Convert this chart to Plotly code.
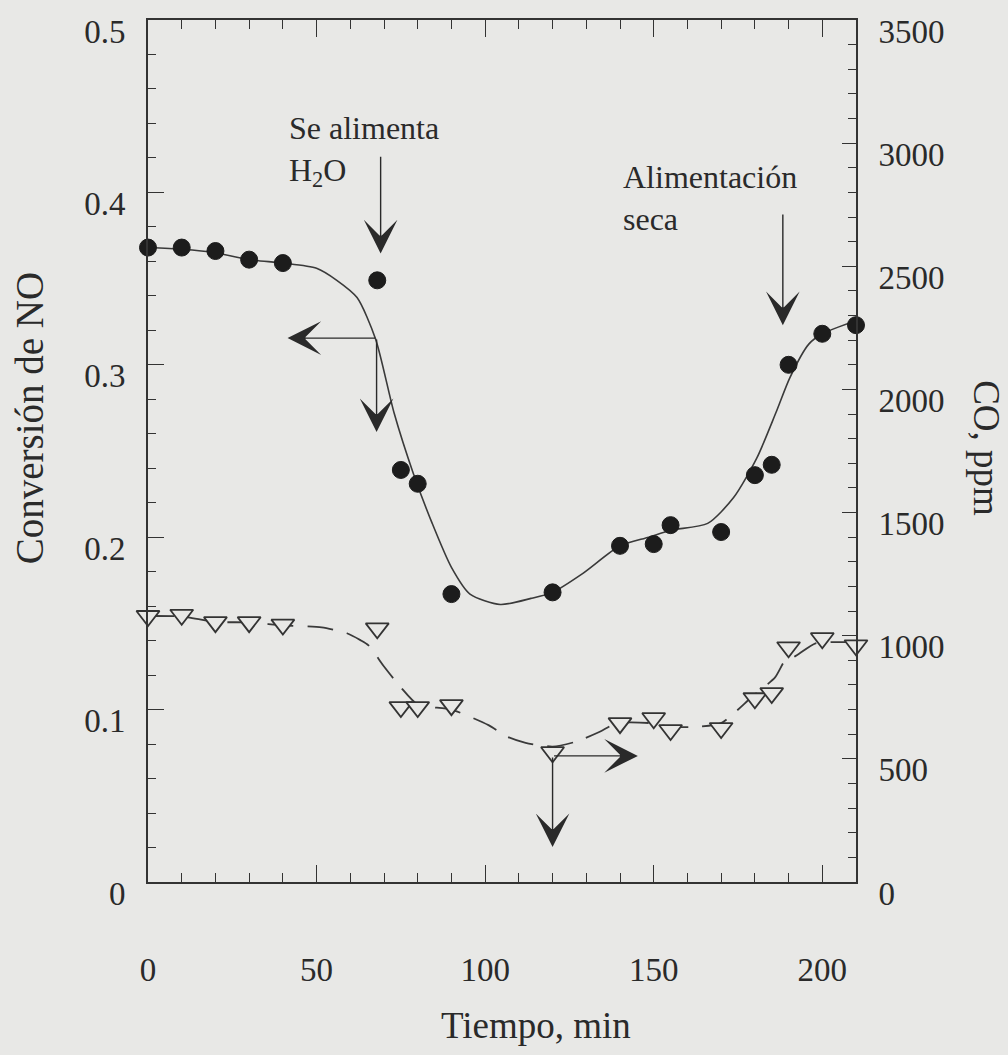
import plotly.graph_objects as go

# --- measured data -------------------------------------------------------
# NO conversion (left axis) vs time
t_no = [0, 10, 20, 30, 40, 68, 75, 80, 90, 120, 140, 150, 155, 170, 180, 185, 190, 200, 210]
conv_no = [0.368, 0.368, 0.366, 0.361, 0.359, 0.349, 0.239, 0.231, 0.167, 0.168,
           0.195, 0.196, 0.207, 0.203, 0.236, 0.242, 0.300, 0.318, 0.323]

# CO concentration (right axis) vs time
t_co = [0, 10, 20, 30, 40, 68, 75, 80, 90, 120, 140, 150, 155, 170, 180, 185, 190, 200, 210]
co_ppm = [1080, 1085, 1055, 1055, 1045, 1030, 710, 710, 718, 527, 645, 665, 617, 625,
          746, 767, 953, 990, 961]

# hand-drawn trend curve through the NO conversion points
t_no_fit = [0, 10, 20, 30, 40, 50, 56, 62, 67.5, 73, 78.7, 84.3, 90, 95.5, 104.5,
            113.6, 120, 129, 140, 148.5, 155, 166, 173.7, 180.6, 186.2, 190.4, 196, 200, 210]
conv_no_fit = [0.368, 0.367, 0.365, 0.361, 0.359, 0.356, 0.349, 0.339, 0.315, 0.272,
               0.237, 0.208, 0.1825, 0.167, 0.161, 0.1645, 0.168, 0.179, 0.195, 0.200,
               0.204, 0.208, 0.223, 0.246, 0.272, 0.2926, 0.312, 0.318, 0.3256]

# dashed trend curve through the CO points
t_co_fit = [0, 10, 20, 30, 40, 51.5, 59, 63, 65.4, 70, 75, 80, 90, 101, 106.5, 112, 120,
            127, 134, 139, 149, 155, 163, 170, 179, 186, 189, 191.5, 198, 204, 210]
co_ppm_fit = [1080, 1078, 1056, 1054, 1042, 1034, 1010, 982, 961, 875, 790, 720, 700, 637,
              590, 565, 550, 570, 610, 645, 645, 630, 630, 645, 750, 831, 900, 913, 969,
              974, 974]

x_ticks = [0, 50, 100, 150, 200]
y_left_ticks = [0, 0.1, 0.2, 0.3, 0.4, 0.5]
y_left_labels = ["0", "0.1", "0.2", "0.3", "0.4", "0.5"]
y_right_ticks = [0, 500, 1000, 1500, 2000, 2500, 3000, 3500]

# annotation arrows: (tail, head) pairs
h2o_arrow = dict(t=69, y_from=0.4215, y_to=0.3646)
dry_arrow = dict(t=188.3, y_from=0.388, y_to=0.323)
no_axis_arrow = dict(t=67.8, y=0.3155, t_left=41.4, y_down=0.261)
co_axis_arrow = dict(t=120, ppm=512, t_right=145.3, ppm_down=142)

INK = "#2a2a2a"
PAPER = "#e8e8e6"
FONT = "Liberation Serif"

fig = go.Figure()

fig.add_trace(go.Scatter(
    x=t_no_fit, y=conv_no_fit, mode="lines",
    line=dict(color="#3a3a3a", width=1.6, shape="spline", smoothing=0.7),
    hoverinfo="skip", showlegend=False))

fig.add_trace(go.Scatter(
    x=t_co_fit, y=co_ppm_fit, mode="lines", yaxis="y2",
    line=dict(color="#3a3a3a", width=1.8, dash="26px,14px", shape="spline", smoothing=0.6),
    hoverinfo="skip", showlegend=False))

fig.add_trace(go.Scatter(
    x=t_no, y=conv_no, mode="markers", name="Conversión de NO",
    marker=dict(symbol="circle", size=17, color="#1c1c1c",
                line=dict(color="#1c1c1c", width=1)),
    cliponaxis=False, showlegend=False))

fig.add_trace(go.Scatter(
    x=t_co, y=co_ppm, mode="markers", yaxis="y2", name="CO, ppm",
    marker=dict(symbol="triangle-down", size=20, color=PAPER,
                line=dict(color="#333333", width=1.8)),
    cliponaxis=False, showlegend=False))

annotations = []

# event labels
annotations.append(dict(
    x=41.1, y=0.449, xref="x", yref="y", xanchor="left", yanchor="top",
    text="Se alimenta<br>H<sub>2</sub>O", align="left", showarrow=False,
    font=dict(family=FONT, size=32, color=INK)))
annotations.append(dict(
    x=140.2, y=0.4205, xref="x", yref="y", xanchor="left", yanchor="top",
    text="Alimentación<br>seca", align="left", showarrow=False,
    font=dict(family=FONT, size=32, color=INK)))


def arrow(x, y, ax, ay, yref="y"):
    return dict(x=x, y=y, ax=ax, ay=ay, xref="x", yref=yref, axref="x", ayref=yref,
                text="", showarrow=True, arrowhead=3, arrowsize=4, arrowwidth=1.4,
                arrowcolor=INK, standoff=0)


annotations.append(arrow(h2o_arrow["t"], h2o_arrow["y_to"], h2o_arrow["t"], h2o_arrow["y_from"]))
annotations.append(arrow(dry_arrow["t"], dry_arrow["y_to"], dry_arrow["t"], dry_arrow["y_from"]))
annotations.append(arrow(no_axis_arrow["t_left"], no_axis_arrow["y"],
                         no_axis_arrow["t"], no_axis_arrow["y"]))
annotations.append(arrow(no_axis_arrow["t"], no_axis_arrow["y_down"],
                         no_axis_arrow["t"], no_axis_arrow["y"]))
annotations.append(arrow(co_axis_arrow["t_right"], co_axis_arrow["ppm"],
                         co_axis_arrow["t"], co_axis_arrow["ppm"], yref="y2"))
annotations.append(arrow(co_axis_arrow["t"], co_axis_arrow["ppm_down"],
                         co_axis_arrow["t"], co_axis_arrow["ppm"], yref="y2"))

# axis titles
annotations.append(dict(
    x=0.548, y=-0.166, xref="paper", yref="paper", xanchor="center", yanchor="middle",
    text="Tiempo, min", showarrow=False, font=dict(family=FONT, size=37, color=INK)))
annotations.append(dict(
    x=-0.168, y=0.538, xref="paper", yref="paper", xanchor="center", yanchor="middle",
    text="Conversión de NO", textangle=-90, showarrow=False,
    font=dict(family=FONT, size=39, color=INK)))
annotations.append(dict(
    x=1.184, y=0.503, xref="paper", yref="paper", xanchor="center", yanchor="middle",
    text="CO, ppm", textangle=90, showarrow=False,
    font=dict(family=FONT, size=37, color=INK)))

axis_common = dict(
    showgrid=False, zeroline=False, showline=True, linecolor="#333333", linewidth=1.6,
    ticks="inside", tickcolor="#333333", tickwidth=1.4,
    tickfont=dict(family=FONT, size=33, color=INK),
)

fig.update_layout(
    width=1008, height=1055,
    margin=dict(l=148, r=152, t=20, b=173),
    paper_bgcolor=PAPER, plot_bgcolor=PAPER,
    font=dict(family=FONT, color=INK),
    showlegend=False,
    annotations=annotations,
    xaxis=dict(
        **axis_common, range=[0, 210], tickvals=x_ticks, ticklen=17, mirror="ticks",
        minor=dict(dtick=10, ticklen=9, ticks="inside", tickcolor="#333333", tickwidth=1.2),
        ticklabelstandoff=58,
    ),
    yaxis=dict(
        **axis_common, range=[0, 0.5], tickvals=y_left_ticks,
        ticktext=y_left_labels, ticklen=16,
        minor=dict(dtick=0.02, ticklen=8, ticks="inside", tickcolor="#333333", tickwidth=1.2),
        ticklabelstandoff=14, ticklabelshift=11,
    ),
    yaxis2=dict(
        **axis_common, range=[0, 3500], tickvals=y_right_ticks, overlaying="y", side="right",
        ticklen=14,
        minor=dict(dtick=100, ticklen=8, ticks="inside", tickcolor="#333333", tickwidth=1.2),
        ticklabelstandoff=14, ticklabelshift=11,
    ),
)

fig.write_html("out.html")
